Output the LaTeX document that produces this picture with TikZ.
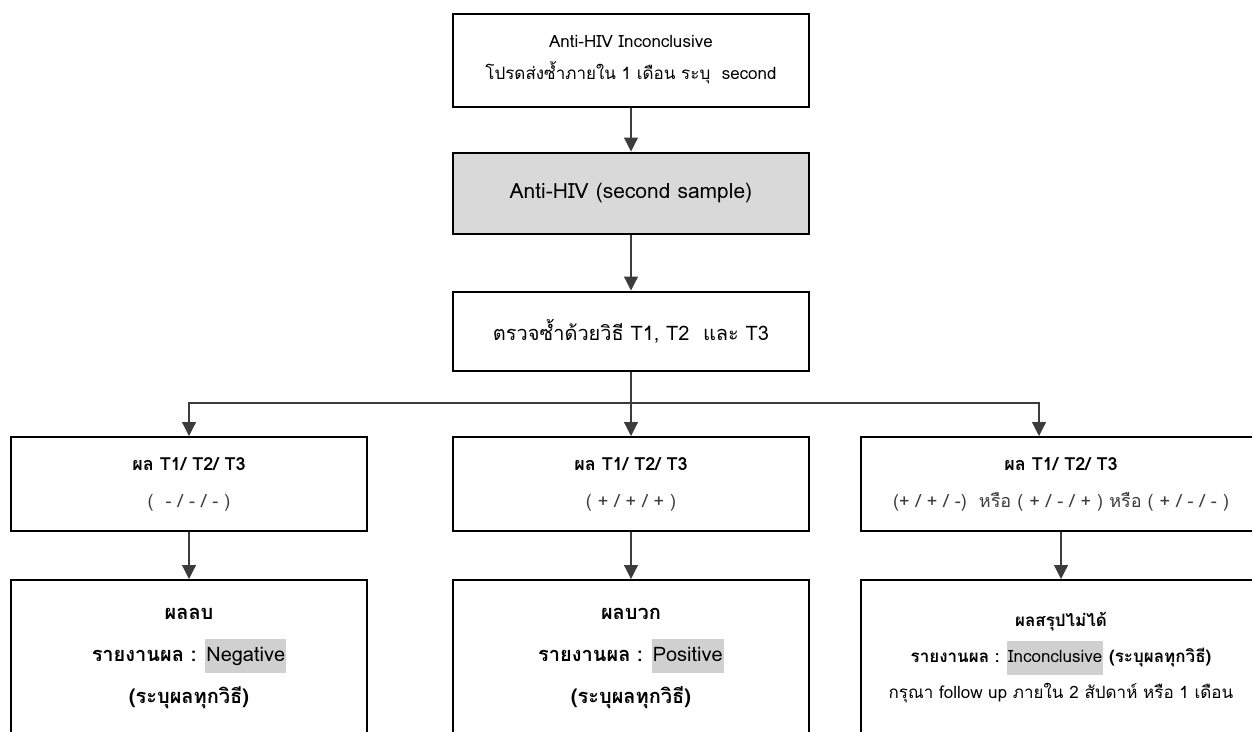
\documentclass[tikz,border=0pt]{standalone}
\usepackage{fontspec}
\setmainfont[Script=Thai]{Loma}
\usetikzlibrary{arrows.meta}
\definecolor{boxgray}{HTML}{D9D9D9}
\definecolor{hlgray}{HTML}{D0D0D0}
\definecolor{linegray}{HTML}{3C3C3C}
\newcommand{\hlite}[1]{{\setlength{\fboxsep}{0pt}\colorbox{hlgray}{\rule[-12pt]{0pt}{34pt}\kern1pt#1\kern1pt}}}

\begin{document}
\begin{tikzpicture}[x=1pt,y=-1pt,
  flowbox/.style={draw=black,line width=2pt,fill=white,minimum width=356pt,inner sep=0pt,align=center},
  link/.style={draw=linegray,line width=1.2pt,-{Triangle[width=14pt,length=14pt]}}]
\useasboundingbox (0,0) rectangle (1252,731);
\clip (0,0) rectangle (1252,731);
% top of the chart
\node[flowbox,minimum height=93pt,font=\fontsize{17}{32}\selectfont] (inc) at (631,60)
  {Anti-HIV Inconclusive\\โปรดส่งซ้ำภายใน 1 เดือน ระบุ\ \ second};
\node[flowbox,fill=boxgray,minimum height=81pt,font=\fontsize{21}{24}\selectfont] (second) at (631,193)
  {Anti-HIV (second sample)};
\node[flowbox,minimum height=79pt,font=\fontsize{20}{24}\selectfont] (retest) at (631,331)
  {ตรวจซ้ำด้วยวิธี T1, T2\ \ และ T3};
% results of T1/T2/T3
\node[flowbox,minimum height=94pt,font=\fontsize{18}{37}\selectfont] (neg1) at (189,484)
  {\textbf{ผล T1/ T2/ T3}\\{\color{linegray}(\ \ - / - / - )}};
\node[flowbox,minimum height=94pt,font=\fontsize{18}{37}\selectfont] (pos1) at (631,484)
  {\textbf{ผล T1/ T2/ T3}\\{\color{linegray}( + / + / + )}};
\node[flowbox,minimum width=400pt,minimum height=94pt,font=\fontsize{18}{37}\selectfont] (inc1) at (1061,484)
  {\textbf{ผล T1/ T2/ T3}\\{\color{linegray}(+ / + / -)\ \ หรือ ( + / - / + ) หรือ ( + / - / - )}};
% reports
\node[flowbox,minimum height=156pt,font=\fontsize{20}{42}\selectfont] (neg2) at (189,658)
  {\textbf{ผลลบ}\\\textbf{รายงานผล :} \hlite{Negative}\\\textbf{(ระบุผลทุกวิธี)}};
\node[flowbox,minimum height=156pt,font=\fontsize{20}{42}\selectfont] (pos2) at (631,658)
  {\textbf{ผลบวก}\\\textbf{รายงานผล :} \hlite{Positive}\\\textbf{(ระบุผลทุกวิธี)}};
\node[flowbox,minimum width=400pt,minimum height=156pt,font=\fontsize{17}{36}\selectfont] (inc2) at (1061,658)
  {\textbf{ผลสรุปไม่ได้}\\\textbf{รายงานผล :} \hlite{Inconclusive} \textbf{(ระบุผลทุกวิธี)}\\กรุณา follow up ภายใน 2 สัปดาห์ หรือ 1 เดือน};
% connectors
\coordinate (split) at (631,403);
\coordinate (incin) at ([xshift=-22pt]inc1.north);
\draw[link] (inc) -- (second);
\draw[link] (second) -- (retest);
\draw[link] (retest) -- (pos1);
\draw[link] (retest.south) -- (split) -| (neg1.north);
\draw[link] (split) -| (incin);
\draw[link] (neg1) -- (neg2);
\draw[link] (pos1) -- (pos2);
\draw[link] (inc1) -- (inc2);
\end{tikzpicture}
\end{document}
